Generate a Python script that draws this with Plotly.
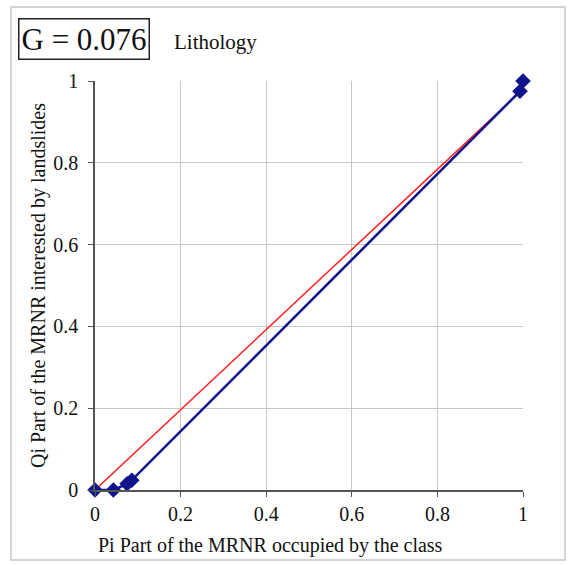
import plotly.graph_objects as go

pi_vals = [0.0, 0.043, 0.075, 0.086, 0.993, 1.0]
qi_vals = [0.0, 0.0, 0.015, 0.024, 0.975, 1.0]
ref_x = [0.0, 1.0]
ref_y = [0.0, 0.98]
tick_vals = [0, 0.2, 0.4, 0.6, 0.8, 1]
tick_text = ["0", "0.2", "0.4", "0.6", "0.8", "1"]
x_title = "Pi Part of the MRNR occupied by the class"
y_title = "Qi Part of the MRNR interested by landslides"

font = "Liberation Serif"

fig = go.Figure()
fig.add_trace(go.Scatter(x=ref_x, y=ref_y, mode="lines",
                         line=dict(color="#ff2020", width=1.5), cliponaxis=False))
fig.add_trace(go.Scatter(x=pi_vals, y=qi_vals, mode="lines+markers",
                         line=dict(color="#10148c", width=2.5),
                         marker=dict(symbol="diamond", size=12, color="#10148c"),
                         cliponaxis=False))

fig.update_layout(
    width=570, height=565,
    margin=dict(l=95, r=47, t=81, b=75),
    paper_bgcolor="white", plot_bgcolor="white",
    showlegend=False,
    font=dict(family=font, color="#111", size=20),
    xaxis=dict(range=[0, 1], tickvals=tick_vals, ticktext=tick_text,
               showgrid=True, gridcolor="#c8c8c8", gridwidth=1,
               showline=True, linecolor="#555", linewidth=1.5,
               ticks="outside", ticklen=5, tickcolor="#555",
               zeroline=False, tickfont=dict(size=20, family=font)),
    yaxis=dict(range=[0, 1], tickvals=tick_vals, ticktext=tick_text,
               showgrid=True, gridcolor="#c8c8c8", gridwidth=1,
               showline=True, linecolor="#555", linewidth=1.5,
               ticks="outside", ticklen=5, tickcolor="#555",
               ticklabelstandoff=6,
               zeroline=False, tickfont=dict(size=20, family=font),
               title=dict(text=y_title,
                          font=dict(size=20, family=font), standoff=2)),
)

# outer frame
fig.add_shape(type="rect", xref="paper", yref="paper",
              x0=-84/428, x1=(565-95)/428, y0=-(560-490)/409, y1=(490-7)/409,
              line=dict(color="#c8c8c8", width=1.5), layer="below")

fig.add_annotation(xref="paper", yref="paper", x=(270-95)/428, y=(490-545)/409,
                   xanchor="center", yanchor="middle", showarrow=False,
                   text=x_title, font=dict(size=20, family=font, color="#111"))

fig.add_annotation(xref="paper", yref="paper", x=(18-95)/428, y=(490-39)/409,
                   xanchor="left", yanchor="middle", showarrow=False,
                   text="G = 0.076", font=dict(size=31, family=font, color="#111"),
                   bordercolor="#222", borderwidth=1.5, borderpad=2, bgcolor="white")
fig.add_annotation(xref="paper", yref="paper", x=(172-95)/428, y=(490-42)/409,
                   xanchor="left", yanchor="middle", showarrow=False,
                   text="Lithology", font=dict(size=21, family=font, color="#111"))

fig.write_html("out.html")
